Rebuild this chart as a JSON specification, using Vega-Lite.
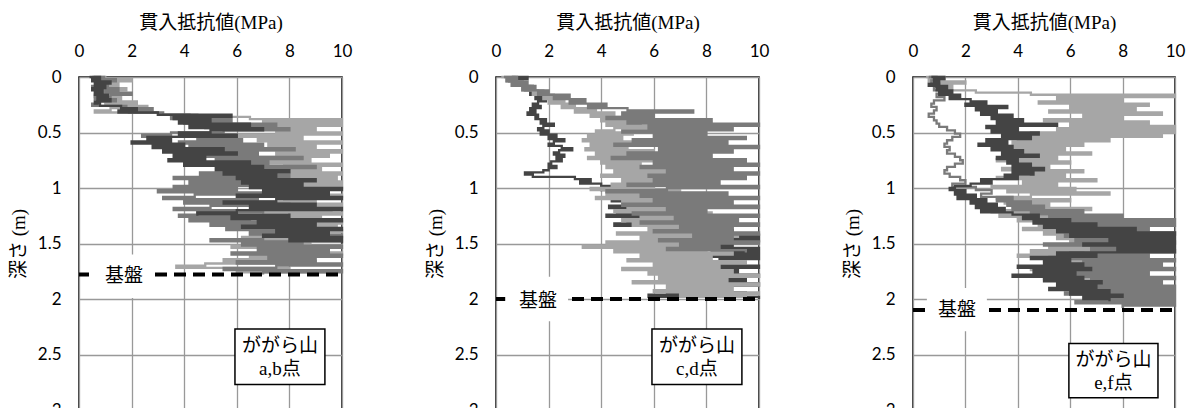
{
"$schema": "https://vega.github.io/schema/vega-lite/v6.json",
"background": "white",
"padding": {"left": 8, "top": 12, "right": 0, "bottom": 0},
"spacing": 72,
"config": {
  "view": {"stroke": "#000000", "strokeWidth": 1.5},
  "axis": {"grid": true, "gridColor": "#999999", "gridWidth": 1.3, "domain": false, "ticks": false, "tickSize": 0, "labelFont": "Lato", "labelFontSize": 17, "labelColor": "#000000", "titleFont": "'Liberation Serif', 'Noto Sans CJK JP'", "titleFontSize": 19, "titleFontWeight": "normal", "titleColor": "#000000", "labelFlush": false, "labelOverlap": false},
  "line": {"interpolate": "step-after", "strokeWidth": 2.3, "clip": true},
  "text": {"font": "'Liberation Serif', 'Noto Sans CJK JP'", "fontSize": 19, "color": "#000000", "align": "center", "baseline": "middle"}
},
"datasets": {
"ab": [
{"s":"L","d":0,"v":0.5},{"s":"L","d":0.02,"v":1.0},{"s":"L","d":0.04,"v":2.0},{"s":"L","d":0.06,"v":0.8},{"s":"L","d":0.08,"v":1.5},{"s":"L","d":0.10,"v":0.7},{"s":"L","d":0.12,"v":1.8},{"s":"L","d":0.14,"v":0.9},{"s":"L","d":0.16,"v":1.2},{"s":"L","d":0.18,"v":0.6},{"s":"L","d":0.20,"v":1.6},{"s":"L","d":0.22,"v":0.8},{"s":"L","d":0.24,"v":2.2},{"s":"L","d":0.26,"v":1.0},{"s":"L","d":0.28,"v":2.6},{"s":"L","d":0.30,"v":1.2},{"s":"L","d":0.32,"v":0.6},{"s":"L","d":0.34,"v":3.0},{"s":"L","d":0.36,"v":4.5},{"s":"L","d":0.38,"v":6.5},{"s":"L","d":0.40,"v":10},{"s":"L","d":0.42,"v":7.0},{"s":"L","d":0.44,"v":10},{"s":"L","d":0.46,"v":6.5},{"s":"L","d":0.48,"v":9.0},{"s":"L","d":0.50,"v":7.5},{"s":"L","d":0.52,"v":10},{"s":"L","d":0.54,"v":6.0},{"s":"L","d":0.56,"v":8.5},{"s":"L","d":0.58,"v":6.8},{"s":"L","d":0.60,"v":10},{"s":"L","d":0.62,"v":7.2},{"s":"L","d":0.64,"v":9.0},{"s":"L","d":0.66,"v":6.5},{"s":"L","d":0.68,"v":10},{"s":"L","d":0.70,"v":7.5},{"s":"L","d":0.72,"v":9.5},{"s":"L","d":0.74,"v":6.2},{"s":"L","d":0.76,"v":8.8},{"s":"L","d":0.78,"v":7.0},{"s":"L","d":0.80,"v":10},{"s":"L","d":0.82,"v":7.8},{"s":"L","d":0.84,"v":9.2},{"s":"L","d":0.86,"v":6.8},{"s":"L","d":0.88,"v":10},{"s":"L","d":0.90,"v":7.5},{"s":"L","d":0.92,"v":9.8},{"s":"L","d":0.94,"v":8.0},{"s":"L","d":0.96,"v":10},{"s":"L","d":0.98,"v":7.2},{"s":"L","d":1.00,"v":10},{"s":"L","d":1.02,"v":8.0},{"s":"L","d":1.04,"v":9.5},{"s":"L","d":1.06,"v":7.0},{"s":"L","d":1.08,"v":10},{"s":"L","d":1.10,"v":7.8},{"s":"L","d":1.12,"v":9.0},{"s":"L","d":1.14,"v":6.5},{"s":"L","d":1.16,"v":10},{"s":"L","d":1.18,"v":8.2},{"s":"L","d":1.20,"v":9.6},{"s":"L","d":1.22,"v":7.0},{"s":"L","d":1.24,"v":10},{"s":"L","d":1.26,"v":8.0},{"s":"L","d":1.28,"v":9.2},{"s":"L","d":1.30,"v":6.8},{"s":"L","d":1.32,"v":10},{"s":"L","d":1.34,"v":7.5},{"s":"L","d":1.36,"v":9.8},{"s":"L","d":1.38,"v":7.2},{"s":"L","d":1.40,"v":10},{"s":"L","d":1.42,"v":6.5},{"s":"L","d":1.44,"v":9.0},{"s":"L","d":1.46,"v":6.2},{"s":"L","d":1.48,"v":10},{"s":"L","d":1.50,"v":7.0},{"s":"L","d":1.52,"v":8.8},{"s":"L","d":1.54,"v":5.8},{"s":"L","d":1.56,"v":9.5},{"s":"L","d":1.58,"v":7.2},{"s":"L","d":1.60,"v":10},{"s":"L","d":1.62,"v":6.5},{"s":"L","d":1.64,"v":8.5},{"s":"L","d":1.66,"v":5.5},{"s":"L","d":1.68,"v":9.0},{"s":"L","d":1.70,"v":4.8},{"s":"L","d":1.72,"v":3.7},{"s":"L","d":1.74,"v":8.0},{"s":"L","d":1.76,"v":6.0},{"s":"L","d":1.78,"v":9.5},
{"s":"M","d":0,"v":1.0},{"s":"M","d":0.02,"v":0.6},{"s":"M","d":0.04,"v":1.4},{"s":"M","d":0.06,"v":0.7},{"s":"M","d":0.08,"v":1.1},{"s":"M","d":0.10,"v":0.5},{"s":"M","d":0.12,"v":1.5},{"s":"M","d":0.14,"v":1.0},{"s":"M","d":0.16,"v":2.0},{"s":"M","d":0.18,"v":1.2},{"s":"M","d":0.20,"v":0.6},{"s":"M","d":0.22,"v":1.4},{"s":"M","d":0.24,"v":0.7},{"s":"M","d":0.26,"v":0.5},{"s":"M","d":0.28,"v":1.8},{"s":"M","d":0.30,"v":2.8},{"s":"M","d":0.32,"v":1.9},{"s":"M","d":0.34,"v":3.2},{"s":"M","d":0.36,"v":4.2},{"s":"M","d":0.38,"v":3.5},{"s":"M","d":0.40,"v":5.8},{"s":"M","d":0.42,"v":4.0},{"s":"M","d":0.44,"v":7.5},{"s":"M","d":0.46,"v":4.8},{"s":"M","d":0.48,"v":8.0},{"s":"M","d":0.50,"v":5.5},{"s":"M","d":0.52,"v":3.5},{"s":"M","d":0.54,"v":2.4},{"s":"M","d":0.56,"v":4.5},{"s":"M","d":0.58,"v":6.2},{"s":"M","d":0.60,"v":3.8},{"s":"M","d":0.62,"v":7.0},{"s":"M","d":0.64,"v":4.2},{"s":"M","d":0.66,"v":8.2},{"s":"M","d":0.68,"v":5.0},{"s":"M","d":0.70,"v":6.8},{"s":"M","d":0.72,"v":4.5},{"s":"M","d":0.74,"v":8.5},{"s":"M","d":0.76,"v":5.2},{"s":"M","d":0.78,"v":7.2},{"s":"M","d":0.80,"v":4.0},{"s":"M","d":0.82,"v":9.0},{"s":"M","d":0.84,"v":5.8},{"s":"M","d":0.86,"v":7.5},{"s":"M","d":0.88,"v":4.6},{"s":"M","d":0.90,"v":8.0},{"s":"M","d":0.92,"v":3.6},{"s":"M","d":0.94,"v":6.5},{"s":"M","d":0.96,"v":4.2},{"s":"M","d":0.98,"v":7.8},{"s":"M","d":1.00,"v":3.6},{"s":"M","d":1.02,"v":6.0},{"s":"M","d":1.04,"v":3.0},{"s":"M","d":1.06,"v":7.2},{"s":"M","d":1.08,"v":4.4},{"s":"M","d":1.10,"v":3.2},{"s":"M","d":1.12,"v":6.8},{"s":"M","d":1.14,"v":4.0},{"s":"M","d":1.16,"v":8.0},{"s":"M","d":1.18,"v":5.0},{"s":"M","d":1.20,"v":3.6},{"s":"M","d":1.22,"v":7.0},{"s":"M","d":1.24,"v":4.5},{"s":"M","d":1.26,"v":3.8},{"s":"M","d":1.28,"v":6.5},{"s":"M","d":1.30,"v":4.2},{"s":"M","d":1.32,"v":7.5},{"s":"M","d":1.34,"v":5.0},{"s":"M","d":1.36,"v":8.2},{"s":"M","d":1.38,"v":5.6},{"s":"M","d":1.40,"v":9.0},{"s":"M","d":1.42,"v":6.5},{"s":"M","d":1.44,"v":10},{"s":"M","d":1.46,"v":7.0},{"s":"M","d":1.48,"v":5.0},{"s":"M","d":1.50,"v":8.5},{"s":"M","d":1.52,"v":6.2},{"s":"M","d":1.54,"v":10},{"s":"M","d":1.56,"v":6.8},{"s":"M","d":1.58,"v":9.5},{"s":"M","d":1.60,"v":5.8},{"s":"M","d":1.62,"v":10},{"s":"M","d":1.64,"v":7.2},{"s":"M","d":1.66,"v":9.0},{"s":"M","d":1.68,"v":6.0},{"s":"M","d":1.70,"v":10},{"s":"M","d":1.72,"v":7.5},{"s":"M","d":1.74,"v":5.5},{"s":"M","d":1.76,"v":10},{"s":"M","d":1.78,"v":7.0},
{"s":"D","d":0,"v":0.4},{"s":"D","d":0.02,"v":0.8},{"s":"D","d":0.04,"v":0.5},{"s":"D","d":0.06,"v":1.2},{"s":"D","d":0.08,"v":0.6},{"s":"D","d":0.10,"v":1.0},{"s":"D","d":0.12,"v":0.5},{"s":"D","d":0.14,"v":0.9},{"s":"D","d":0.16,"v":0.6},{"s":"D","d":0.18,"v":1.1},{"s":"D","d":0.20,"v":0.7},{"s":"D","d":0.22,"v":1.2},{"s":"D","d":0.24,"v":0.6},{"s":"D","d":0.26,"v":0.8},{"s":"D","d":0.28,"v":1.6},{"s":"D","d":0.30,"v":2.2},{"s":"D","d":0.32,"v":1.5},{"s":"D","d":0.34,"v":3.0},{"s":"D","d":0.36,"v":5.8},{"s":"D","d":0.38,"v":3.6},{"s":"D","d":0.40,"v":5.0},{"s":"D","d":0.42,"v":3.8},{"s":"D","d":0.44,"v":6.5},{"s":"D","d":0.46,"v":4.2},{"s":"D","d":0.48,"v":7.0},{"s":"D","d":0.50,"v":5.0},{"s":"D","d":0.52,"v":3.8},{"s":"D","d":0.54,"v":6.0},{"s":"D","d":0.56,"v":2.6},{"s":"D","d":0.58,"v":3.5},{"s":"D","d":0.60,"v":2.0},{"s":"D","d":0.62,"v":4.0},{"s":"D","d":0.64,"v":2.8},{"s":"D","d":0.66,"v":5.5},{"s":"D","d":0.68,"v":3.2},{"s":"D","d":0.70,"v":6.0},{"s":"D","d":0.72,"v":3.6},{"s":"D","d":0.74,"v":4.8},{"s":"D","d":0.76,"v":3.4},{"s":"D","d":0.78,"v":6.5},{"s":"D","d":0.80,"v":4.0},{"s":"D","d":0.82,"v":7.0},{"s":"D","d":0.84,"v":5.2},{"s":"D","d":0.86,"v":8.0},{"s":"D","d":0.88,"v":5.5},{"s":"D","d":0.90,"v":7.5},{"s":"D","d":0.92,"v":6.0},{"s":"D","d":0.94,"v":9.0},{"s":"D","d":0.96,"v":6.2},{"s":"D","d":0.98,"v":8.5},{"s":"D","d":1.00,"v":6.5},{"s":"D","d":1.02,"v":10},{"s":"D","d":1.04,"v":7.0},{"s":"D","d":1.06,"v":9.5},{"s":"D","d":1.08,"v":6.0},{"s":"D","d":1.10,"v":10},{"s":"D","d":1.12,"v":7.5},{"s":"D","d":1.14,"v":5.5},{"s":"D","d":1.16,"v":9.0},{"s":"D","d":1.18,"v":6.5},{"s":"D","d":1.20,"v":10},{"s":"D","d":1.22,"v":6.0},{"s":"D","d":1.24,"v":4.5},{"s":"D","d":1.26,"v":8.0},{"s":"D","d":1.28,"v":5.8},{"s":"D","d":1.30,"v":10},{"s":"D","d":1.32,"v":6.8},{"s":"D","d":1.34,"v":9.0},{"s":"D","d":1.36,"v":6.2},{"s":"D","d":1.38,"v":10},{"s":"D","d":1.40,"v":7.5},{"s":"D","d":1.42,"v":9.5},{"s":"D","d":1.44,"v":7.0},{"s":"D","d":1.46,"v":10},{"s":"D","d":1.48,"v":8.0},{"s":"D","d":1.50,"v":10}
],
"cd": [
{"s":"M","d":0,"v":0.3},{"s":"M","d":0.02,"v":0.8},{"s":"M","d":0.04,"v":0.4},{"s":"M","d":0.06,"v":1.2},{"s":"M","d":0.08,"v":0.6},{"s":"M","d":0.10,"v":1.5},{"s":"M","d":0.12,"v":1.0},{"s":"M","d":0.14,"v":2.0},{"s":"M","d":0.16,"v":1.6},{"s":"M","d":0.18,"v":2.8},{"s":"M","d":0.20,"v":2.2},{"s":"M","d":0.22,"v":3.4},{"s":"M","d":0.24,"v":2.8},{"s":"M","d":0.26,"v":4.2},{"s":"M","d":0.28,"v":3.5},{"s":"M","d":0.30,"v":5.0},{"s":"M","d":0.32,"v":7.5},{"s":"M","d":0.34,"v":4.8},{"s":"M","d":0.36,"v":6.0},{"s":"M","d":0.38,"v":4.2},{"s":"M","d":0.40,"v":8.2},{"s":"M","d":0.42,"v":5.0},{"s":"M","d":0.44,"v":10},{"s":"M","d":0.46,"v":5.8},{"s":"M","d":0.48,"v":9.0},{"s":"M","d":0.50,"v":4.8},{"s":"M","d":0.52,"v":8.0},{"s":"M","d":0.54,"v":6.0},{"s":"M","d":0.56,"v":9.5},{"s":"M","d":0.58,"v":5.2},{"s":"M","d":0.60,"v":8.8},{"s":"M","d":0.62,"v":4.5},{"s":"M","d":0.64,"v":10},{"s":"M","d":0.66,"v":6.2},{"s":"M","d":0.68,"v":9.0},{"s":"M","d":0.70,"v":5.0},{"s":"M","d":0.72,"v":8.2},{"s":"M","d":0.74,"v":4.4},{"s":"M","d":0.76,"v":9.5},{"s":"M","d":0.78,"v":6.0},{"s":"M","d":0.80,"v":10},{"s":"M","d":0.82,"v":5.5},{"s":"M","d":0.84,"v":9.0},{"s":"M","d":0.86,"v":6.5},{"s":"M","d":0.88,"v":10},{"s":"M","d":0.90,"v":5.8},{"s":"M","d":0.92,"v":9.5},{"s":"M","d":0.94,"v":6.0},{"s":"M","d":0.96,"v":8.5},{"s":"M","d":0.98,"v":5.0},{"s":"M","d":1.00,"v":10},{"s":"M","d":1.02,"v":6.5},{"s":"M","d":1.04,"v":4.2},{"s":"M","d":1.06,"v":8.8},{"s":"M","d":1.08,"v":5.5},{"s":"M","d":1.10,"v":10},{"s":"M","d":1.12,"v":6.0},{"s":"M","d":1.14,"v":9.0},{"s":"M","d":1.16,"v":4.8},{"s":"M","d":1.18,"v":10},{"s":"M","d":1.20,"v":6.5},{"s":"M","d":1.22,"v":8.0},{"s":"M","d":1.24,"v":5.2},{"s":"M","d":1.26,"v":10},{"s":"M","d":1.28,"v":6.8},{"s":"M","d":1.30,"v":9.2},{"s":"M","d":1.32,"v":5.5},{"s":"M","d":1.34,"v":10},{"s":"M","d":1.36,"v":7.0},{"s":"M","d":1.38,"v":9.0},{"s":"M","d":1.40,"v":6.0},{"s":"M","d":1.42,"v":10},{"s":"M","d":1.44,"v":7.5},{"s":"M","d":1.46,"v":9.0},{"s":"M","d":1.48,"v":6.2},{"s":"M","d":1.50,"v":10},{"s":"M","d":1.52,"v":7.0},{"s":"M","d":1.54,"v":8.5},{"s":"M","d":1.56,"v":6.5},{"s":"M","d":1.58,"v":9.5},
{"s":"D","d":0,"v":0.6},{"s":"D","d":0.02,"v":1.2},{"s":"D","d":0.04,"v":0.5},{"s":"D","d":0.06,"v":1.0},{"s":"D","d":0.08,"v":0.7},{"s":"D","d":0.10,"v":1.4},{"s":"D","d":0.12,"v":1.1},{"s":"D","d":0.14,"v":1.6},{"s":"D","d":0.16,"v":1.3},{"s":"D","d":0.18,"v":1.8},{"s":"D","d":0.20,"v":1.5},{"s":"D","d":0.22,"v":1.9},{"s":"D","d":0.24,"v":1.6},{"s":"D","d":0.26,"v":1.4},{"s":"D","d":0.28,"v":1.7},{"s":"D","d":0.30,"v":1.3},{"s":"D","d":0.32,"v":1.5},{"s":"D","d":0.34,"v":1.2},{"s":"D","d":0.36,"v":1.6},{"s":"D","d":0.38,"v":1.5},{"s":"D","d":0.40,"v":1.9},{"s":"D","d":0.42,"v":1.7},{"s":"D","d":0.44,"v":2.2},{"s":"D","d":0.46,"v":1.8},{"s":"D","d":0.48,"v":1.6},{"s":"D","d":0.50,"v":2.0},{"s":"D","d":0.52,"v":1.7},{"s":"D","d":0.54,"v":2.3},{"s":"D","d":0.56,"v":2.0},{"s":"D","d":0.58,"v":2.6},{"s":"D","d":0.60,"v":2.2},{"s":"D","d":0.62,"v":2.0},{"s":"D","d":0.64,"v":2.5},{"s":"D","d":0.66,"v":2.9},{"s":"D","d":0.68,"v":2.4},{"s":"D","d":0.70,"v":2.2},{"s":"D","d":0.72,"v":2.6},{"s":"D","d":0.74,"v":2.3},{"s":"D","d":0.76,"v":2.5},{"s":"D","d":0.78,"v":2.1},{"s":"D","d":0.80,"v":2.0},{"s":"D","d":0.82,"v":2.3},{"s":"D","d":0.84,"v":2.0},{"s":"D","d":0.86,"v":1.8},{"s":"D","d":0.88,"v":1.1},{"s":"D","d":0.90,"v":1.4},{"s":"D","d":0.92,"v":3.0},{"s":"D","d":0.94,"v":3.6},{"s":"D","d":0.96,"v":3.2},{"s":"D","d":0.98,"v":4.0},{"s":"D","d":1.00,"v":4.6},{"s":"D","d":1.02,"v":4.0},{"s":"D","d":1.04,"v":5.5},{"s":"D","d":1.06,"v":4.6},{"s":"D","d":1.08,"v":6.2},{"s":"D","d":1.10,"v":5.0},{"s":"D","d":1.12,"v":4.4},{"s":"D","d":1.14,"v":6.5},{"s":"D","d":1.16,"v":5.2},{"s":"D","d":1.18,"v":4.3},{"s":"D","d":1.20,"v":7.0},{"s":"D","d":1.22,"v":4.6},{"s":"D","d":1.24,"v":6.0},{"s":"D","d":1.26,"v":4.2},{"s":"D","d":1.28,"v":7.5},{"s":"D","d":1.30,"v":5.0},{"s":"D","d":1.32,"v":6.2},{"s":"D","d":1.34,"v":4.5},{"s":"D","d":1.36,"v":8.0},{"s":"D","d":1.38,"v":6.0},{"s":"D","d":1.40,"v":9.0},{"s":"D","d":1.42,"v":7.0},{"s":"D","d":1.44,"v":10},{"s":"D","d":1.46,"v":7.5},{"s":"D","d":1.48,"v":10},{"s":"D","d":1.50,"v":8.0},{"s":"D","d":1.52,"v":9.0},{"s":"D","d":1.54,"v":7.2},{"s":"D","d":1.56,"v":10},{"s":"D","d":1.58,"v":8.2},{"s":"D","d":1.60,"v":10},{"s":"D","d":1.62,"v":7.5},{"s":"D","d":1.64,"v":10},{"s":"D","d":1.66,"v":8.5},{"s":"D","d":1.68,"v":9.5},{"s":"D","d":1.70,"v":7.8},{"s":"D","d":1.72,"v":10},{"s":"D","d":1.74,"v":8.0},{"s":"D","d":1.76,"v":9.2},{"s":"D","d":1.78,"v":7.5},{"s":"D","d":1.80,"v":10},{"s":"D","d":1.82,"v":8.2},{"s":"D","d":1.84,"v":9.5},{"s":"D","d":1.86,"v":7.0},{"s":"D","d":1.88,"v":10},{"s":"D","d":1.90,"v":7.5},{"s":"D","d":1.92,"v":8.8},{"s":"D","d":1.94,"v":6.5},{"s":"D","d":1.96,"v":9.5},{"s":"D","d":1.98,"v":5.8},{"s":"D","d":2.00,"v":10},
{"s":"L","d":0,"v":0.2},{"s":"L","d":0.02,"v":0.7},{"s":"L","d":0.04,"v":0.4},{"s":"L","d":0.06,"v":1.0},{"s":"L","d":0.08,"v":0.6},{"s":"L","d":0.10,"v":1.3},{"s":"L","d":0.12,"v":1.0},{"s":"L","d":0.14,"v":1.8},{"s":"L","d":0.16,"v":1.4},{"s":"L","d":0.18,"v":2.2},{"s":"L","d":0.20,"v":1.8},{"s":"L","d":0.22,"v":2.6},{"s":"L","d":0.24,"v":2.0},{"s":"L","d":0.26,"v":3.0},{"s":"L","d":0.28,"v":2.5},{"s":"L","d":0.30,"v":3.8},{"s":"L","d":0.32,"v":3.0},{"s":"L","d":0.34,"v":4.5},{"s":"L","d":0.36,"v":3.6},{"s":"L","d":0.38,"v":5.0},{"s":"L","d":0.40,"v":4.0},{"s":"L","d":0.42,"v":5.5},{"s":"L","d":0.44,"v":4.2},{"s":"L","d":0.46,"v":5.8},{"s":"L","d":0.48,"v":4.5},{"s":"L","d":0.50,"v":3.8},{"s":"L","d":0.52,"v":5.2},{"s":"L","d":0.54,"v":3.5},{"s":"L","d":0.56,"v":4.8},{"s":"L","d":0.58,"v":3.3},{"s":"L","d":0.60,"v":5.5},{"s":"L","d":0.62,"v":3.6},{"s":"L","d":0.64,"v":5.0},{"s":"L","d":0.66,"v":3.4},{"s":"L","d":0.68,"v":6.0},{"s":"L","d":0.70,"v":3.8},{"s":"L","d":0.72,"v":5.2},{"s":"L","d":0.74,"v":3.5},{"s":"L","d":0.76,"v":6.2},{"s":"L","d":0.78,"v":4.0},{"s":"L","d":0.80,"v":5.5},{"s":"L","d":0.82,"v":4.2},{"s":"L","d":0.84,"v":6.8},{"s":"L","d":0.86,"v":4.5},{"s":"L","d":0.88,"v":7.0},{"s":"L","d":0.90,"v":4.0},{"s":"L","d":0.92,"v":6.5},{"s":"L","d":0.94,"v":4.8},{"s":"L","d":0.96,"v":7.5},{"s":"L","d":0.98,"v":4.4},{"s":"L","d":1.00,"v":6.0},{"s":"L","d":1.02,"v":3.6},{"s":"L","d":1.04,"v":7.0},{"s":"L","d":1.06,"v":4.2},{"s":"L","d":1.08,"v":6.5},{"s":"L","d":1.10,"v":3.8},{"s":"L","d":1.12,"v":7.2},{"s":"L","d":1.14,"v":4.8},{"s":"L","d":1.16,"v":8.0},{"s":"L","d":1.18,"v":5.0},{"s":"L","d":1.20,"v":7.5},{"s":"L","d":1.22,"v":4.5},{"s":"L","d":1.24,"v":8.2},{"s":"L","d":1.26,"v":5.5},{"s":"L","d":1.28,"v":7.0},{"s":"L","d":1.30,"v":4.8},{"s":"L","d":1.32,"v":8.5},{"s":"L","d":1.34,"v":5.2},{"s":"L","d":1.36,"v":9.0},{"s":"L","d":1.38,"v":5.8},{"s":"L","d":1.40,"v":8.0},{"s":"L","d":1.42,"v":4.6},{"s":"L","d":1.44,"v":9.2},{"s":"L","d":1.46,"v":5.5},{"s":"L","d":1.48,"v":8.5},{"s":"L","d":1.50,"v":4.2},{"s":"L","d":1.52,"v":7.5},{"s":"L","d":1.54,"v":3.3},{"s":"L","d":1.56,"v":8.0},{"s":"L","d":1.58,"v":4.5},{"s":"L","d":1.60,"v":9.0},{"s":"L","d":1.62,"v":5.5},{"s":"L","d":1.64,"v":8.2},{"s":"L","d":1.66,"v":5.0},{"s":"L","d":1.68,"v":9.5},{"s":"L","d":1.70,"v":6.0},{"s":"L","d":1.72,"v":8.5},{"s":"L","d":1.74,"v":4.8},{"s":"L","d":1.76,"v":9.0},{"s":"L","d":1.78,"v":5.8},{"s":"L","d":1.80,"v":10},{"s":"L","d":1.82,"v":6.2},{"s":"L","d":1.84,"v":8.8},{"s":"L","d":1.86,"v":5.2},{"s":"L","d":1.88,"v":10},{"s":"L","d":1.90,"v":6.5},{"s":"L","d":1.92,"v":9.0},{"s":"L","d":1.94,"v":6.0},{"s":"L","d":1.96,"v":10},{"s":"L","d":1.98,"v":7.0},{"s":"L","d":2.00,"v":9.5}
],
"ef": [
{"s":"L","d":0,"v":0.5},{"s":"L","d":0.02,"v":1.2},{"s":"L","d":0.04,"v":0.6},{"s":"L","d":0.06,"v":2.0},{"s":"L","d":0.08,"v":0.8},{"s":"L","d":0.10,"v":1.5},{"s":"L","d":0.12,"v":1.0},{"s":"L","d":0.14,"v":2.4},{"s":"L","d":0.16,"v":4.5},{"s":"L","d":0.18,"v":10},{"s":"L","d":0.20,"v":5.5},{"s":"L","d":0.22,"v":8.0},{"s":"L","d":0.24,"v":4.8},{"s":"L","d":0.26,"v":9.0},{"s":"L","d":0.28,"v":6.0},{"s":"L","d":0.30,"v":8.5},{"s":"L","d":0.32,"v":5.2},{"s":"L","d":0.34,"v":9.5},{"s":"L","d":0.36,"v":6.5},{"s":"L","d":0.38,"v":8.0},{"s":"L","d":0.40,"v":5.0},{"s":"L","d":0.42,"v":9.0},{"s":"L","d":0.44,"v":6.0},{"s":"L","d":0.46,"v":10},{"s":"L","d":0.48,"v":5.5},{"s":"L","d":0.50,"v":10},{"s":"L","d":0.52,"v":4.5},{"s":"L","d":0.54,"v":9.5},{"s":"L","d":0.56,"v":4.0},{"s":"L","d":0.58,"v":7.5},{"s":"L","d":0.60,"v":3.8},{"s":"L","d":0.62,"v":6.5},{"s":"L","d":0.64,"v":3.5},{"s":"L","d":0.66,"v":5.8},{"s":"L","d":0.68,"v":4.2},{"s":"L","d":0.70,"v":6.8},{"s":"L","d":0.72,"v":3.6},{"s":"L","d":0.74,"v":5.5},{"s":"L","d":0.76,"v":3.2},{"s":"L","d":0.78,"v":6.0},{"s":"L","d":0.80,"v":4.0},{"s":"L","d":0.82,"v":5.2},{"s":"L","d":0.84,"v":3.4},{"s":"L","d":0.86,"v":6.5},{"s":"L","d":0.88,"v":4.5},{"s":"L","d":0.90,"v":5.8},{"s":"L","d":0.92,"v":3.2},{"s":"L","d":0.94,"v":7.0},{"s":"L","d":0.96,"v":4.2},{"s":"L","d":0.98,"v":5.5},{"s":"L","d":1.00,"v":3.0},{"s":"L","d":1.02,"v":6.2},{"s":"L","d":1.04,"v":3.6},{"s":"L","d":1.06,"v":7.5},{"s":"L","d":1.08,"v":4.5},{"s":"L","d":1.10,"v":3.2},{"s":"L","d":1.12,"v":6.0},{"s":"L","d":1.14,"v":3.5},{"s":"L","d":1.16,"v":5.2},{"s":"L","d":1.18,"v":3.8},{"s":"L","d":1.20,"v":6.8},{"s":"L","d":1.22,"v":3.0},{"s":"L","d":1.24,"v":4.5},{"s":"L","d":1.26,"v":3.3},{"s":"L","d":1.28,"v":5.8},{"s":"L","d":1.30,"v":4.0},{"s":"L","d":1.32,"v":7.0},{"s":"L","d":1.34,"v":4.8},{"s":"L","d":1.36,"v":6.2},{"s":"L","d":1.38,"v":4.2},{"s":"L","d":1.40,"v":7.5},{"s":"L","d":1.42,"v":5.0},{"s":"L","d":1.44,"v":8.0},{"s":"L","d":1.46,"v":5.5},{"s":"L","d":1.48,"v":7.0},{"s":"L","d":1.50,"v":6.0},{"s":"L","d":1.52,"v":8.5},{"s":"L","d":1.54,"v":5.2},{"s":"L","d":1.56,"v":7.5},{"s":"L","d":1.58,"v":4.5},{"s":"L","d":1.60,"v":6.5},{"s":"L","d":1.62,"v":4.0},{"s":"L","d":1.64,"v":7.2},{"s":"L","d":1.66,"v":5.0},{"s":"L","d":1.68,"v":8.0},{"s":"L","d":1.70,"v":5.5},{"s":"L","d":1.72,"v":7.0},{"s":"L","d":1.74,"v":4.5},{"s":"L","d":1.76,"v":8.2},{"s":"L","d":1.78,"v":5.8},{"s":"L","d":1.80,"v":7.5},{"s":"L","d":1.82,"v":5.0},{"s":"L","d":1.84,"v":8.5},{"s":"L","d":1.86,"v":6.0},{"s":"L","d":1.88,"v":7.8},{"s":"L","d":1.90,"v":5.5},{"s":"L","d":1.92,"v":8.0},{"s":"L","d":1.94,"v":6.5},{"s":"L","d":1.96,"v":9.0},{"s":"L","d":1.98,"v":7.0},
{"s":"M","d":0,"v":0.6},{"s":"M","d":0.03,"v":0.9},{"s":"M","d":0.06,"v":0.7},{"s":"M","d":0.09,"v":1.0},{"s":"M","d":0.12,"v":0.8},{"s":"M","d":0.15,"v":1.1},{"s":"M","d":0.18,"v":0.9},{"s":"M","d":0.21,"v":1.2},{"s":"M","d":0.24,"v":0.8},{"s":"M","d":0.27,"v":0.7},{"s":"M","d":0.30,"v":0.9},{"s":"M","d":0.33,"v":0.8},{"s":"M","d":0.36,"v":0.6},{"s":"M","d":0.39,"v":0.8},{"s":"M","d":0.42,"v":0.9},{"s":"M","d":0.45,"v":1.0},{"s":"M","d":0.48,"v":1.3},{"s":"M","d":0.51,"v":1.6},{"s":"M","d":0.54,"v":1.8},{"s":"M","d":0.57,"v":1.5},{"s":"M","d":0.60,"v":1.3},{"s":"M","d":0.63,"v":1.2},{"s":"M","d":0.66,"v":1.4},{"s":"M","d":0.69,"v":1.3},{"s":"M","d":0.72,"v":1.6},{"s":"M","d":0.75,"v":1.8},{"s":"M","d":0.78,"v":1.9},{"s":"M","d":0.81,"v":1.6},{"s":"M","d":0.84,"v":1.3},{"s":"M","d":0.87,"v":1.2},{"s":"M","d":0.90,"v":1.4},{"s":"M","d":0.93,"v":1.8},{"s":"M","d":0.96,"v":2.0},{"s":"M","d":0.99,"v":1.5},{"s":"M","d":1.02,"v":2.4},{"s":"M","d":1.05,"v":3.0},{"s":"M","d":1.08,"v":2.6},{"s":"M","d":1.10,"v":3.8},{"s":"M","d":1.12,"v":3.2},{"s":"M","d":1.14,"v":4.5},{"s":"M","d":1.16,"v":3.6},{"s":"M","d":1.18,"v":5.0},{"s":"M","d":1.20,"v":3.8},{"s":"M","d":1.22,"v":6.5},{"s":"M","d":1.24,"v":4.5},{"s":"M","d":1.26,"v":8.0},{"s":"M","d":1.28,"v":5.2},{"s":"M","d":1.30,"v":10},{"s":"M","d":1.32,"v":6.0},{"s":"M","d":1.34,"v":10},{"s":"M","d":1.36,"v":5.5},{"s":"M","d":1.38,"v":9.0},{"s":"M","d":1.40,"v":6.5},{"s":"M","d":1.42,"v":10},{"s":"M","d":1.44,"v":5.8},{"s":"M","d":1.46,"v":9.5},{"s":"M","d":1.48,"v":6.2},{"s":"M","d":1.50,"v":10},{"s":"M","d":1.52,"v":5.0},{"s":"M","d":1.54,"v":8.5},{"s":"M","d":1.56,"v":6.8},{"s":"M","d":1.58,"v":10},{"s":"M","d":1.60,"v":6.0},{"s":"M","d":1.62,"v":9.0},{"s":"M","d":1.64,"v":5.2},{"s":"M","d":1.66,"v":10},{"s":"M","d":1.68,"v":6.5},{"s":"M","d":1.70,"v":9.5},{"s":"M","d":1.72,"v":5.8},{"s":"M","d":1.74,"v":10},{"s":"M","d":1.76,"v":6.2},{"s":"M","d":1.78,"v":9.0},{"s":"M","d":1.80,"v":5.5},{"s":"M","d":1.82,"v":10},{"s":"M","d":1.84,"v":6.8},{"s":"M","d":1.86,"v":9.5},{"s":"M","d":1.88,"v":6.0},{"s":"M","d":1.90,"v":10},{"s":"M","d":1.92,"v":6.5},{"s":"M","d":1.94,"v":10},{"s":"M","d":1.96,"v":5.8},{"s":"M","d":1.98,"v":10},{"s":"M","d":2.00,"v":7.0},{"s":"M","d":2.02,"v":10},{"s":"M","d":2.04,"v":6.2},{"s":"M","d":2.06,"v":10},{"s":"M","d":2.08,"v":8.0},
{"s":"D","d":0,"v":0.7},{"s":"D","d":0.02,"v":1.2},{"s":"D","d":0.04,"v":0.8},{"s":"D","d":0.06,"v":1.0},{"s":"D","d":0.08,"v":0.6},{"s":"D","d":0.10,"v":1.3},{"s":"D","d":0.12,"v":0.9},{"s":"D","d":0.14,"v":1.5},{"s":"D","d":0.16,"v":1.0},{"s":"D","d":0.18,"v":1.8},{"s":"D","d":0.20,"v":1.4},{"s":"D","d":0.22,"v":2.2},{"s":"D","d":0.24,"v":2.8},{"s":"D","d":0.26,"v":2.0},{"s":"D","d":0.28,"v":3.6},{"s":"D","d":0.30,"v":2.4},{"s":"D","d":0.32,"v":3.2},{"s":"D","d":0.34,"v":2.6},{"s":"D","d":0.36,"v":3.8},{"s":"D","d":0.38,"v":3.0},{"s":"D","d":0.40,"v":4.2},{"s":"D","d":0.42,"v":3.2},{"s":"D","d":0.44,"v":5.5},{"s":"D","d":0.46,"v":2.8},{"s":"D","d":0.48,"v":4.0},{"s":"D","d":0.50,"v":3.0},{"s":"D","d":0.52,"v":4.8},{"s":"D","d":0.54,"v":3.4},{"s":"D","d":0.56,"v":4.5},{"s":"D","d":0.58,"v":2.8},{"s":"D","d":0.60,"v":3.6},{"s":"D","d":0.62,"v":2.5},{"s":"D","d":0.64,"v":3.8},{"s":"D","d":0.66,"v":3.0},{"s":"D","d":0.68,"v":4.2},{"s":"D","d":0.70,"v":3.4},{"s":"D","d":0.72,"v":4.8},{"s":"D","d":0.74,"v":3.2},{"s":"D","d":0.76,"v":4.0},{"s":"D","d":0.78,"v":3.6},{"s":"D","d":0.80,"v":4.5},{"s":"D","d":0.82,"v":3.8},{"s":"D","d":0.84,"v":5.0},{"s":"D","d":0.86,"v":3.8},{"s":"D","d":0.88,"v":4.6},{"s":"D","d":0.90,"v":3.5},{"s":"D","d":0.92,"v":4.0},{"s":"D","d":0.94,"v":2.6},{"s":"D","d":0.96,"v":3.0},{"s":"D","d":0.98,"v":2.2},{"s":"D","d":1.00,"v":1.6},{"s":"D","d":1.02,"v":1.4},{"s":"D","d":1.04,"v":2.0},{"s":"D","d":1.06,"v":1.6},{"s":"D","d":1.08,"v":2.4},{"s":"D","d":1.10,"v":1.7},{"s":"D","d":1.12,"v":2.8},{"s":"D","d":1.14,"v":2.2},{"s":"D","d":1.16,"v":3.2},{"s":"D","d":1.18,"v":2.4},{"s":"D","d":1.20,"v":3.5},{"s":"D","d":1.22,"v":2.6},{"s":"D","d":1.24,"v":3.8},{"s":"D","d":1.26,"v":4.8},{"s":"D","d":1.28,"v":4.2},{"s":"D","d":1.30,"v":6.0},{"s":"D","d":1.32,"v":4.6},{"s":"D","d":1.34,"v":7.0},{"s":"D","d":1.36,"v":5.0},{"s":"D","d":1.38,"v":8.5},{"s":"D","d":1.40,"v":5.5},{"s":"D","d":1.42,"v":10},{"s":"D","d":1.44,"v":6.0},{"s":"D","d":1.46,"v":10},{"s":"D","d":1.48,"v":7.5},{"s":"D","d":1.50,"v":10},{"s":"D","d":1.52,"v":6.5},{"s":"D","d":1.54,"v":10},{"s":"D","d":1.56,"v":7.8},{"s":"D","d":1.58,"v":10},{"s":"D","d":1.60,"v":5.5},{"s":"D","d":1.62,"v":7.0},{"s":"D","d":1.64,"v":4.5},{"s":"D","d":1.66,"v":6.0},{"s":"D","d":1.68,"v":5.0},{"s":"D","d":1.70,"v":6.5},{"s":"D","d":1.72,"v":4.0},{"s":"D","d":1.74,"v":6.8},{"s":"D","d":1.76,"v":4.6},{"s":"D","d":1.78,"v":6.2},{"s":"D","d":1.80,"v":3.8},{"s":"D","d":1.82,"v":6.5},{"s":"D","d":1.84,"v":5.0},{"s":"D","d":1.86,"v":7.2},{"s":"D","d":1.88,"v":5.5},{"s":"D","d":1.90,"v":7.0},{"s":"D","d":1.92,"v":5.2},{"s":"D","d":1.94,"v":7.5},{"s":"D","d":1.96,"v":6.0},{"s":"D","d":1.98,"v":8.0},{"s":"D","d":2.00,"v":6.5},{"s":"D","d":2.02,"v":7.5}
]
},
"hconcat": [
{
 "width": 263, "height": 333,
 "data": {"name": "ab"},
 "encoding": {
  "x": {"field": "v", "type": "quantitative", "title": "貫入抵抗値(MPa)", "scale": {"domain": [0, 10], "nice": false}, "axis": {"orient": "top", "values": [0, 2, 4, 6, 8, 10], "labelPadding": 17, "titlePadding": 10}},
  "y": {"field": "d", "type": "quantitative", "title": "深さ (m)", "scale": {"domain": [0, 3], "reverse": true, "nice": false}, "axis": {"values": [0, 0.5, 1, 1.5, 2, 2.5, 3], "format": "~g", "labelPadding": 18, "titlePadding": 9}}
 },
 "layer": [
  {"transform": [{"filter": "datum.s === 'L'"}], "mark": {"type": "line", "color": "#a6a6a6"}, "encoding": {"order": {"field": "d"}}},
  {"transform": [{"filter": "datum.s === 'M'"}], "mark": {"type": "line", "color": "#7a7a7a"}, "encoding": {"order": {"field": "d"}}},
  {"transform": [{"filter": "datum.s === 'D'"}], "mark": {"type": "line", "color": "#444444"}, "encoding": {"order": {"field": "d"}}},
  {"data": {"values": [{"v": 0, "v2": 10, "d": 1.78}]}, "mark": {"type": "rule", "color": "#000000", "strokeWidth": 4, "strokeDash": [12, 7]}, "encoding": {"x2": {"field": "v2"}}},
  {"data": {"values": [{"v": 0.38, "v2": 2.85, "d": 1.6, "d2": 1.99}]}, "mark": {"type": "rect", "fill": "#ffffff"}, "encoding": {"x2": {"field": "v2"}, "y2": {"field": "d2"}}},
  {"data": {"values": [{"v": 1.71, "d": 1.79, "t": "基盤"}]}, "mark": {"type": "text"}, "encoding": {"text": {"field": "t"}}},
  {"data": {"values": [{"v": 5.93, "v2": 9.35, "d": 2.27, "d2": 2.77}]}, "mark": {"type": "rect", "fill": "#ffffff", "stroke": "#000000", "strokeWidth": 1.5}, "encoding": {"x2": {"field": "v2"}, "y2": {"field": "d2"}}},
  {"data": {"values": [{"v": 7.64, "d": 2.42, "t": "ががら山"}, {"v": 7.64, "d": 2.63, "t": "a,b点"}]}, "mark": {"type": "text"}, "encoding": {"text": {"field": "t"}}}
 ]
},
{
 "width": 263, "height": 333,
 "data": {"name": "cd"},
 "encoding": {
  "x": {"field": "v", "type": "quantitative", "title": "貫入抵抗値(MPa)", "scale": {"domain": [0, 10], "nice": false}, "axis": {"orient": "top", "values": [0, 2, 4, 6, 8, 10], "labelPadding": 17, "titlePadding": 10}},
  "y": {"field": "d", "type": "quantitative", "title": "深さ (m)", "scale": {"domain": [0, 3], "reverse": true, "nice": false}, "axis": {"values": [0, 0.5, 1, 1.5, 2, 2.5, 3], "format": "~g", "labelPadding": 18, "titlePadding": 9}}
 },
 "layer": [
  {"transform": [{"filter": "datum.s === 'D'"}], "mark": {"type": "line", "color": "#444444"}, "encoding": {"order": {"field": "d"}}},
  {"transform": [{"filter": "datum.s === 'L'"}], "mark": {"type": "line", "color": "#a6a6a6"}, "encoding": {"order": {"field": "d"}}},
  {"transform": [{"filter": "datum.s === 'M'"}], "mark": {"type": "line", "color": "#7a7a7a"}, "encoding": {"order": {"field": "d"}}},
  {"data": {"values": [{"v": 0, "v2": 10, "d": 2.0}]}, "mark": {"type": "rule", "color": "#000000", "strokeWidth": 4, "strokeDash": [12, 7]}, "encoding": {"x2": {"field": "v2"}}},
  {"data": {"values": [{"v": 0.35, "v2": 2.74, "d": 1.8, "d2": 2.2}]}, "mark": {"type": "rect", "fill": "#ffffff"}, "encoding": {"x2": {"field": "v2"}, "y2": {"field": "d2"}}},
  {"data": {"values": [{"v": 1.6, "d": 2.02, "t": "基盤"}]}, "mark": {"type": "text"}, "encoding": {"text": {"field": "t"}}},
  {"data": {"values": [{"v": 5.93, "v2": 9.35, "d": 2.27, "d2": 2.77}]}, "mark": {"type": "rect", "fill": "#ffffff", "stroke": "#000000", "strokeWidth": 1.5}, "encoding": {"x2": {"field": "v2"}, "y2": {"field": "d2"}}},
  {"data": {"values": [{"v": 7.64, "d": 2.42, "t": "ががら山"}, {"v": 7.64, "d": 2.63, "t": "c,d点"}]}, "mark": {"type": "text"}, "encoding": {"text": {"field": "t"}}}
 ]
},
{
 "width": 262, "height": 333,
 "data": {"name": "ef"},
 "encoding": {
  "x": {"field": "v", "type": "quantitative", "title": "貫入抵抗値(MPa)", "scale": {"domain": [0, 10], "nice": false}, "axis": {"orient": "top", "values": [0, 2, 4, 6, 8, 10], "labelPadding": 17, "titlePadding": 10}},
  "y": {"field": "d", "type": "quantitative", "title": "深さ (m)", "scale": {"domain": [0, 3], "reverse": true, "nice": false}, "axis": {"values": [0, 0.5, 1, 1.5, 2, 2.5, 3], "format": "~g", "labelPadding": 18, "titlePadding": 9}}
 },
 "layer": [
  {"transform": [{"filter": "datum.s === 'L'"}], "mark": {"type": "line", "color": "#a6a6a6"}, "encoding": {"order": {"field": "d"}}},
  {"transform": [{"filter": "datum.s === 'M'"}], "mark": {"type": "line", "color": "#7a7a7a"}, "encoding": {"order": {"field": "d"}}},
  {"transform": [{"filter": "datum.s === 'D'"}], "mark": {"type": "line", "color": "#444444"}, "encoding": {"order": {"field": "d"}}},
  {"data": {"values": [{"v": 0, "v2": 10, "d": 2.1}]}, "mark": {"type": "rule", "color": "#000000", "strokeWidth": 4, "strokeDash": [12, 7]}, "encoding": {"x2": {"field": "v2"}}},
  {"data": {"values": [{"v": 0.53, "v2": 2.82, "d": 1.9, "d2": 2.29}]}, "mark": {"type": "rect", "fill": "#ffffff"}, "encoding": {"x2": {"field": "v2"}, "y2": {"field": "d2"}}},
  {"data": {"values": [{"v": 1.68, "d": 2.1, "t": "基盤"}]}, "mark": {"type": "text"}, "encoding": {"text": {"field": "t"}}},
  {"data": {"values": [{"v": 5.95, "v2": 9.35, "d": 2.4, "d2": 2.89}]}, "mark": {"type": "rect", "fill": "#ffffff", "stroke": "#000000", "strokeWidth": 1.5}, "encoding": {"x2": {"field": "v2"}, "y2": {"field": "d2"}}},
  {"data": {"values": [{"v": 7.65, "d": 2.55, "t": "ががら山"}, {"v": 7.65, "d": 2.76, "t": "e,f点"}]}, "mark": {"type": "text"}, "encoding": {"text": {"field": "t"}}}
 ]
}
]
}
